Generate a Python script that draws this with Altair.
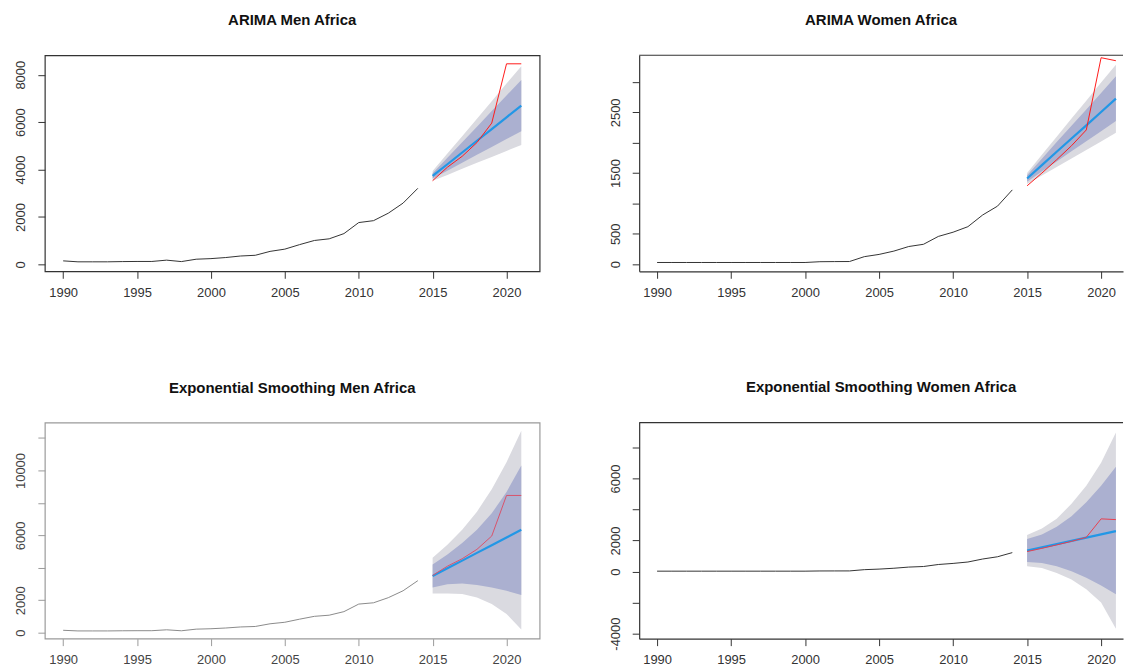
import altair as alt
import pandas as pd

# ---------------- data ----------------
YEARS_HIST = list(range(1990, 2015))
YEARS_FC = list(range(2015, 2022))
X_TICKS = [1990, 1995, 2000, 2005, 2010, 2015, 2020]

MEN_HIST = [150, 110, 110, 110, 120, 125, 125, 180, 120, 220, 245, 290, 355, 385,
            550, 645, 835, 1010, 1080, 1300, 1765, 1845, 2160, 2585, 3210]
WOMEN_HIST = [27, 27, 27, 27, 27, 27, 27, 27, 27, 27, 27, 40, 42, 43,
              123, 160, 215, 290, 327, 456, 526, 617, 810, 955, 1223]

MEN_ACTUAL = [3530, 4100, 4560, 5140, 5960, 8460, 8460]
WOMEN_ACTUAL = [1290, 1500, 1720, 1950, 2210, 3400, 3350]

# ARIMA Men
AM_MEAN = [3730, 4225, 4720, 5215, 5710, 6205, 6700]
AM_LO95 = [3525, 3775, 4030, 4285, 4535, 4785, 5040]
AM_HI95 = [3935, 4675, 5410, 6145, 6885, 7625, 8360]
AM_LO80 = [3620, 3955, 4290, 4625, 4950, 5285, 5620]
AM_HI80 = [3840, 4495, 5150, 5805, 6470, 7125, 7780]

# ARIMA Women
AW_MEAN = [1410, 1630, 1850, 2070, 2285, 2505, 2725]
AW_LO95 = [1318, 1460, 1600, 1740, 1880, 2020, 2165]
AW_HI95 = [1502, 1800, 2100, 2400, 2690, 2990, 3285]
AW_LO80 = [1355, 1525, 1690, 1860, 2023, 2190, 2357]
AW_HI80 = [1465, 1735, 2010, 2280, 2547, 2820, 3093]

# Exponential smoothing Men
EM_MEAN = [3497, 3971, 4445, 4920, 5394, 5868, 6343]
EM_LO95 = [2419, 2419, 2379, 2175, 1769, 1159, 203]
EM_HI95 = [4615, 5429, 6344, 7462, 8844, 10511, 12442]
EM_LO80 = [2785, 2989, 3029, 2948, 2785, 2582, 2318]
EM_HI80 = [4208, 4818, 5530, 6343, 7359, 8681, 10307]

# Exponential smoothing Women
EW_MEAN = [1357, 1565, 1774, 1982, 2191, 2399, 2608]
EW_LO95 = [339, 233, -85, -509, -1145, -1993, -3689]
EW_HI95 = [2353, 2777, 3413, 4367, 5533, 7017, 8968]
EW_LO80 = [615, 551, 339, 21, -403, -890, -1463]
EW_HI80 = [2099, 2396, 2883, 3562, 4473, 5533, 6763]

FONT = "Liberation Sans"
X_DOMAIN_LEFT = [1988.76, 2022.24]
X_DOMAIN_RIGHT = [1988.79, 2021.48]
H = 217
W_LEFT = 497
W_RIGHT = 486


def panel(title, hist, actual, mean, lo95, hi95, lo80, hi80, x_domain, width,
          y_domain, y_ticks, y_labels, frame_col, label_col, hist_col, red_col,
          open_right=False):
    hist_df = pd.DataFrame({"year": YEARS_HIST, "value": hist})
    fc_df = pd.DataFrame({"year": YEARS_FC, "mean": mean, "actual": actual,
                          "lo95": lo95, "hi95": hi95, "lo80": lo80, "hi80": hi80})
    lab_list = "[" + ",".join(str(v) for v in y_labels) + "]"
    common = dict(title=None, grid=False, tickSize=7, tickColor=frame_col, tickWidth=1,
                  labelFont=FONT, labelFontSize=13, labelColor=label_col,
                  labelFlush=False, labelOverlap=False,
                  domain=open_right, domainColor=frame_col, domainWidth=1.2)
    xax = alt.Axis(values=X_TICKS, labelExpr="toString(datum.value)",
                   labelPadding=8, **common)
    yax = alt.Axis(values=y_ticks,
                   labelExpr="indexof(" + lab_list + ", datum.value) >= 0 ? toString(datum.value) : ''",
                   labelAngle=270, labelAlign="center", labelBaseline="bottom",
                   labelPadding=10, **common)
    xs = alt.Scale(domain=x_domain, nice=False, zero=False)
    ys = alt.Scale(domain=y_domain, nice=False, zero=False)
    X = alt.X("year:Q", scale=xs, axis=xax)

    b95 = alt.Chart(fc_df).mark_area(color="#dadae0", opacity=1).encode(
        x=X, y=alt.Y("lo95:Q", scale=ys, axis=yax), y2="hi95:Q")
    b80 = alt.Chart(fc_df).mark_area(color="#abb0d0", opacity=1).encode(
        x=X, y=alt.Y("lo80:Q", scale=ys, axis=yax), y2="hi80:Q")
    hl = alt.Chart(hist_df).mark_line(color=hist_col, strokeWidth=1).encode(
        x=X, y=alt.Y("value:Q", scale=ys, axis=yax))
    ml = alt.Chart(fc_df).mark_line(color="#2297E6", strokeWidth=2.2).encode(
        x=X, y=alt.Y("mean:Q", scale=ys, axis=yax))
    al = alt.Chart(fc_df).mark_line(color=red_col, strokeWidth=1).encode(
        x=X, y=alt.Y("actual:Q", scale=ys, axis=yax))
    layers = [b95, b80, hl, ml, al]
    if open_right:
        # top edge of the frame (the right edge is cut off in the reference)
        top = alt.Chart(hist_df.head(1)).mark_rule(color=frame_col, strokeWidth=1.2).encode(
            x=alt.value(0), x2=alt.value(width), y=alt.value(0))
        layers.append(top)
        view = alt.ViewBackground(stroke="transparent", fill="white")
    else:
        view = alt.ViewBackground(stroke=frame_col, strokeWidth=1.2, fill="white")
    return alt.layer(*layers).properties(
        width=width, height=H, view=view,
        title=alt.TitleParams(title, font=FONT, fontSize=15, fontWeight="bold",
                              color="#111", anchor="middle", offset=27),
    )


p1 = panel("ARIMA Men Africa", MEN_HIST, MEN_ACTUAL, AM_MEAN, AM_LO95, AM_HI95,
           AM_LO80, AM_HI80, X_DOMAIN_LEFT, W_LEFT, [-290, 8820], [0, 2000, 4000, 6000, 8000],
           [0, 2000, 4000, 6000, 8000], "#333", "#333", "#333", "#ff1a1a")
p2 = panel("ARIMA Women Africa", WOMEN_HIST, WOMEN_ACTUAL, AW_MEAN, AW_LO95, AW_HI95,
           AW_LO80, AW_HI80, X_DOMAIN_RIGHT, W_RIGHT, [-118, 3440],
           [0, 500, 1000, 1500, 2000, 2500, 3000],
           [0, 500, 1500, 2500], "#333", "#333", "#333", "#ff1a1a", open_right=True)
p3 = panel("Exponential Smoothing Men Africa", MEN_HIST, MEN_ACTUAL, EM_MEAN, EM_LO95,
           EM_HI95, EM_LO80, EM_HI80, X_DOMAIN_LEFT, W_LEFT, [-366, 12950],
           [0, 2000, 4000, 6000, 8000, 10000, 12000], [0, 2000, 6000, 10000],
           "#9a9a9a", "#444", "#8a8a8a", "#d9536b")
p4 = panel("Exponential Smoothing Women Africa", WOMEN_HIST, WOMEN_ACTUAL, EW_MEAN, EW_LO95,
           EW_HI95, EW_LO80, EW_HI80, X_DOMAIN_RIGHT, W_RIGHT, [-4325, 9604],
           [-4000, -2000, 0, 2000, 4000, 6000, 8000], [-4000, 0, 2000, 6000],
           "#333", "#333", "#333", "#e8404f", open_right=True)

chart = alt.concat(p1, p2, p3, p4, columns=2, spacing={"column": 68, "row": 79}).properties(
    padding={"left": 6, "top": 2, "right": 0, "bottom": 0},
    background="white",
)

chart.save("out.html", embed_options={"renderer": "svg", "actions": False})
